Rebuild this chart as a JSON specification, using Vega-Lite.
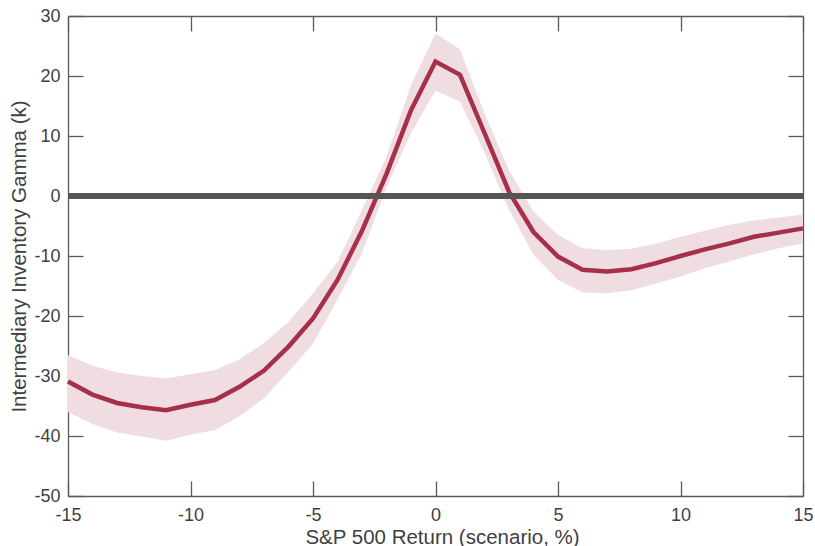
{
  "$schema": "https://vega.github.io/schema/vega-lite/v6.json",
  "autosize": "none",
  "width": 735,
  "height": 480,
  "padding": {"left": 68, "top": 16, "right": 12, "bottom": 50},
  "background": "white",
  "data": {
    "values": [
      {"x": -15, "y": -30.9, "lo": -36.0, "hi": -26.5},
      {"x": -14, "y": -33.1, "lo": -38.0, "hi": -28.3},
      {"x": -13, "y": -34.5, "lo": -39.4, "hi": -29.4},
      {"x": -12, "y": -35.2, "lo": -40.1, "hi": -30.0},
      {"x": -11, "y": -35.7, "lo": -40.8, "hi": -30.4},
      {"x": -10, "y": -34.8, "lo": -39.8, "hi": -29.7},
      {"x": -9, "y": -34.0, "lo": -39.0, "hi": -29.0},
      {"x": -8, "y": -31.8, "lo": -36.7, "hi": -27.2},
      {"x": -7, "y": -29.1, "lo": -33.7, "hi": -24.5},
      {"x": -6, "y": -25.1, "lo": -29.3, "hi": -21.0},
      {"x": -5, "y": -20.4, "lo": -24.6, "hi": -16.2},
      {"x": -4, "y": -14.0, "lo": -17.3, "hi": -11.0},
      {"x": -3, "y": -5.8, "lo": -9.5, "hi": -2.3},
      {"x": -2, "y": 3.7, "lo": 1.4, "hi": 6.5},
      {"x": -1, "y": 14.3, "lo": 10.5, "hi": 18.5},
      {"x": 0, "y": 22.4, "lo": 17.6, "hi": 27.1},
      {"x": 1, "y": 20.2, "lo": 15.7, "hi": 24.4},
      {"x": 2, "y": 10.5, "lo": 7.2, "hi": 13.8},
      {"x": 3, "y": 0.7, "lo": -2.3, "hi": 4.3},
      {"x": 4, "y": -6.0, "lo": -9.8, "hi": -2.6},
      {"x": 5, "y": -10.1, "lo": -14.0, "hi": -6.5},
      {"x": 6, "y": -12.3, "lo": -16.1, "hi": -8.7},
      {"x": 7, "y": -12.6, "lo": -16.2, "hi": -9.0},
      {"x": 8, "y": -12.2, "lo": -15.7, "hi": -8.8},
      {"x": 9, "y": -11.2, "lo": -14.6, "hi": -7.9},
      {"x": 10, "y": -10.0, "lo": -13.4, "hi": -6.8},
      {"x": 11, "y": -8.9, "lo": -12.0, "hi": -5.8},
      {"x": 12, "y": -7.9, "lo": -10.9, "hi": -4.8},
      {"x": 13, "y": -6.8, "lo": -9.7, "hi": -4.1},
      {"x": 14, "y": -6.1, "lo": -8.7, "hi": -3.6},
      {"x": 15, "y": -5.4, "lo": -7.9, "hi": -3.1}
    ]
  },
  "layer": [
    {
      "mark": {"type": "area", "color": "#EFDDE2", "opacity": 1},
      "encoding": {
        "x": {
          "field": "x", "type": "quantitative",
          "scale": {"domain": [-15, 15], "nice": false, "zero": false},
          "axis": {"orient": "top", "labels": false, "title": null, "values": [-15, -10, -5, 0, 5, 10, 15]}
        },
        "y": {
          "field": "lo", "type": "quantitative",
          "scale": {"domain": [-50, 30], "nice": false, "zero": false},
          "axis": {"orient": "right", "labels": false, "title": null, "values": [-50, -40, -30, -20, -10, 0, 10, 20, 30]}
        },
        "y2": {"field": "hi"}
      }
    },
    {
      "mark": {"type": "line", "color": "#A6304A", "strokeWidth": 4.5, "strokeJoin": "miter"},
      "encoding": {
        "x": {
          "field": "x", "type": "quantitative",
          "scale": {"domain": [-15, 15], "nice": false, "zero": false},
          "axis": {
            "orient": "bottom", "title": "S&P 500 Return (scenario, %)",
            "values": [-15, -10, -5, 0, 5, 10, 15],
            "labelExpr": "'' + datum.value",
            "labelPadding": 25, "labelBaseline": "top",
            "titleX": 374, "titleY": 47, "titleAlign": "center", "titleBaseline": "alphabetic"
          }
        },
        "y": {
          "field": "y", "type": "quantitative",
          "scale": {"domain": [-50, 30], "nice": false, "zero": false},
          "axis": {
            "orient": "left", "title": "Intermediary Inventory Gamma (k)",
            "values": [-50, -40, -30, -20, -10, 0, 10, 20, 30],
            "labelExpr": "'' + datum.value",
            "labelPadding": 23,
            "titleX": -43, "titleBaseline": "alphabetic", "titleAngle": -90
          }
        }
      }
    },
    {
      "mark": {"type": "rule", "color": "#555555", "strokeWidth": 5.5, "opacity": 0.9},
      "encoding": {
        "y": {"datum": 0, "type": "quantitative", "axis": null}
      }
    }
  ],
  "resolve": {"axis": {"x": "independent", "y": "independent"}},
  "config": {
    "view": {"stroke": null},
    "axis": {
      "grid": false,
      "domainColor": "#5a5a5a",
      "domainWidth": 1.3,
      "tickColor": "#5a5a5a",
      "tickWidth": 1.3,
      "tickSize": -15,
      "labelFont": "Liberation Sans",
      "labelFontSize": 18,
      "labelColor": "#3f3f3f",
      "labelFlush": false,
      "labelOverlap": false,
      "titleFont": "Liberation Sans",
      "titleFontSize": 20.5,
      "titleFontWeight": "normal",
      "titleColor": "#3f3f3f"
    }
  }
}
